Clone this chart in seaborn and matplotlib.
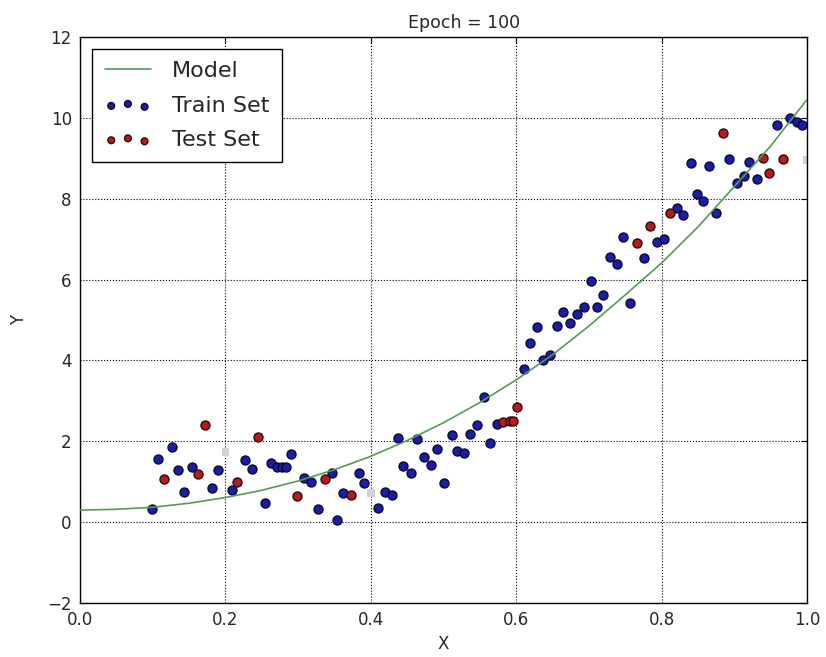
import numpy as np
import pandas as pd
import seaborn as sns
import matplotlib
matplotlib.use("Agg")
import matplotlib.pyplot as plt

# model curve
model_x = [0.0, 0.05, 0.1, 0.15, 0.2, 0.25, 0.3, 0.35, 0.4, 0.45, 0.5,
           0.55, 0.6, 0.65, 0.7, 0.75, 0.8, 0.85, 0.9, 0.95, 1.0]
model_y = [0.30, 0.32, 0.37, 0.47, 0.61, 0.79, 1.02, 1.30, 1.63, 2.02, 2.46,
           2.96, 3.52, 4.14, 4.85, 5.62, 6.41, 7.30, 8.30, 9.30, 10.45]

# train set points
train_x = [0.099, 0.107, 0.127, 0.135, 0.143, 0.154, 0.181, 0.190, 0.209, 0.227,
           0.237, 0.254, 0.263, 0.271, 0.278, 0.283, 0.290, 0.308, 0.318, 0.327,
           0.347, 0.354, 0.362, 0.383, 0.390, 0.410, 0.420, 0.429, 0.437, 0.444,
           0.455, 0.463, 0.473, 0.483, 0.491, 0.500, 0.512, 0.519, 0.528, 0.536,
           0.546, 0.556, 0.564, 0.574, 0.611, 0.619, 0.629, 0.637, 0.646, 0.656,
           0.664, 0.674, 0.684, 0.693, 0.703, 0.711, 0.720, 0.729, 0.739, 0.747,
           0.757, 0.776, 0.794, 0.803, 0.821, 0.829, 0.840, 0.849, 0.857, 0.865,
           0.875, 0.893, 0.904, 0.913, 0.920, 0.931, 0.959, 0.977, 0.986, 0.993]
train_y = [0.32, 1.56, 1.86, 1.29, 0.74, 1.36, 0.84, 1.29, 0.79, 1.53,
           1.31, 0.47, 1.46, 1.36, 1.36, 1.36, 1.68, 1.09, 0.99, 0.32,
           1.21, 0.05, 0.72, 1.21, 0.97, 0.35, 0.74, 0.67, 2.08, 1.39,
           1.21, 2.05, 1.61, 1.41, 1.81, 0.97, 2.15, 1.76, 1.71, 2.18,
           2.40, 3.09, 1.96, 2.43, 3.79, 4.43, 4.83, 4.00, 4.13, 4.85,
           5.20, 4.93, 5.15, 5.32, 5.97, 5.32, 5.62, 6.56, 6.39, 7.05,
           5.42, 6.53, 6.93, 7.00, 7.77, 7.60, 8.89, 8.12, 7.95, 8.81,
           7.65, 8.99, 8.39, 8.56, 8.91, 8.49, 9.83, 10.00, 9.90, 9.83]

# test set points
test_x = [0.116, 0.162, 0.172, 0.216, 0.245, 0.298, 0.337, 0.372, 0.582, 0.591,
          0.596, 0.601, 0.766, 0.784, 0.812, 0.885, 0.939, 0.948, 0.967]
test_y = [1.06, 1.19, 2.40, 1.00, 2.10, 0.64, 1.06, 0.67, 2.48, 2.50,
          2.50, 2.85, 6.90, 7.33, 7.65, 9.63, 9.01, 8.64, 8.99]

# faint grey marks that show up in the picture
grey_x = [0.200, 0.400, 1.000]
grey_y = [1.73, 0.72, 8.96]

sns.set_style("white")
plt.rcParams["font.family"] = ["DejaVu Sans"]

fig = plt.figure(figsize=(8.26, 6.57), dpi=100)
ax = fig.add_axes([0.097, 0.082, 0.88, 0.862])

sns.scatterplot(x=grey_x, y=grey_y, color="#d2d2d2", edgecolor="none", s=30,
                marker="s", ax=ax, zorder=2)
sns.scatterplot(x=train_x, y=train_y, color="#1c1ca8", edgecolor="#0a0a30",
                linewidth=1, s=42, label="Train Set", ax=ax, zorder=3)
sns.scatterplot(x=test_x, y=test_y, color="#b41c22", edgecolor="#300a0a",
                linewidth=1, s=42, label="Test Set", ax=ax, zorder=3)
sns.lineplot(x=model_x, y=model_y, color="#559a55", linewidth=1.2,
             label="Model", ax=ax, zorder=4)

ax.set_xlim(0, 1)
ax.set_ylim(-2, 12)
ax.set_xticks(np.arange(0, 1.01, 0.2))
ax.set_yticks(np.arange(-2, 13, 2))
ax.set_xticklabels(["0.0", "0.2", "0.4", "0.6", "0.8", "1.0"])
ax.tick_params(direction="in", top=True, right=True, length=4, labelsize=12,
               color="k", pad=6)
ax.grid(True, linestyle=":", color="k", linewidth=0.8)
for s in ax.spines.values():
    s.set_color("k")
    s.set_linewidth(1.0)

ax.set_title("Epoch = 100", fontsize=12.5, x=0.528)
ax.set_xlabel("X", fontsize=12)
ax.set_ylabel("Y", fontsize=12, labelpad=14)

handles, labels = ax.get_legend_handles_labels()
order = [labels.index("Model"), labels.index("Train Set"), labels.index("Test Set")]
leg = ax.legend([handles[i] for i in order], [labels[i] for i in order],
                loc="upper left", fontsize=16, scatterpoints=3,
                scatteryoffsets=[0.375, 0.5, 0.3125], markerscale=0.75,
                fancybox=False, frameon=True, framealpha=1, edgecolor="k",
                borderaxespad=0.55, borderpad=0.55, handlelength=2.1,
                handletextpad=0.95, labelspacing=0.65)
leg.get_frame().set_linewidth(1.0)

fig.savefig("out.png", dpi=100, facecolor="white")
